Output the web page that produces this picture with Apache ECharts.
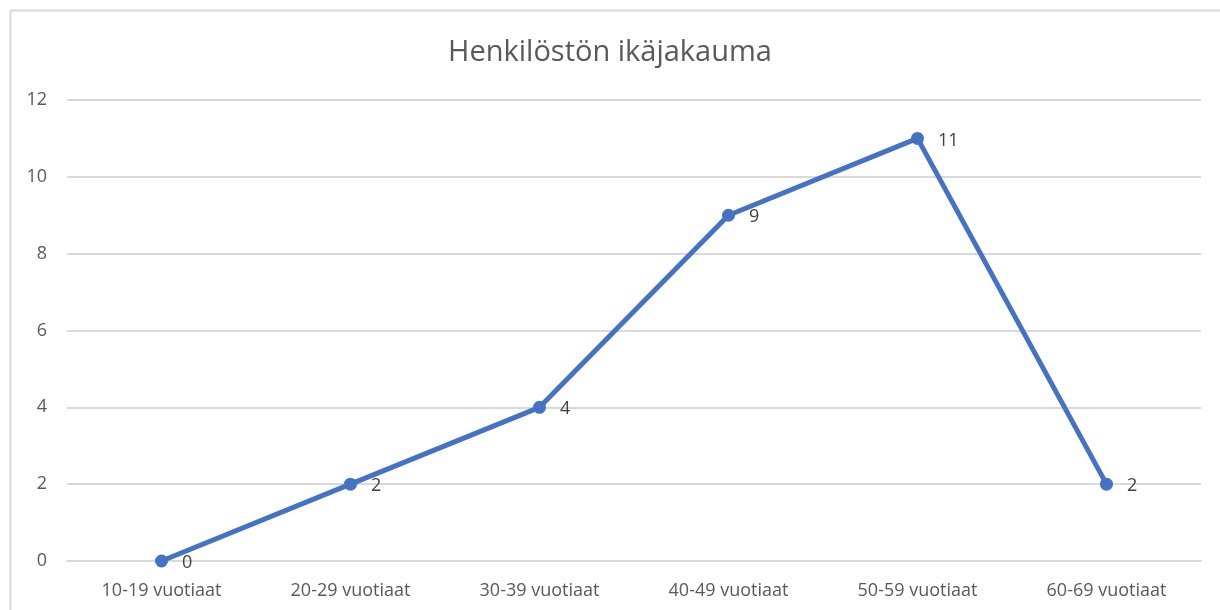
<!DOCTYPE html>
<html>
<head>
<meta charset="utf-8">
<script src="https://cdn.jsdelivr.net/npm/echarts@6/dist/echarts.min.js"></script>
<style>
html,body{margin:0;padding:0;background:#fff;}
#main{width:1220px;height:610px;}
</style>
</head>
<body>
<div id="main"></div>
<script>
var titleText = 'Henkilöstön ikäjakauma';
var categories = ['10-19 vuotiaat','20-29 vuotiaat','30-39 vuotiaat','40-49 vuotiaat','50-59 vuotiaat','60-69 vuotiaat'];
var values = [0, 2, 4, 9, 11, 2];
var yTicks = {min: 0, max: 12, interval: 2};

var font = '"Open Sans", "Noto Sans", sans-serif';
var chart = echarts.init(document.getElementById('main'), null, {renderer: 'canvas'});
chart.setOption({
  backgroundColor: '#ffffff',
  animation: false,
  graphic: [{
    type: 'rect', left: 8, top: 8, z: -1,
    shape: {width: 1300, height: 700},
    style: {fill: 'none', stroke: '#d9d9d9', lineWidth: 2}
  }],
  title: {
    text: titleText, left: 'center', top: 33,
    textStyle: {fontFamily: font, fontSize: 29, fontWeight: 'normal', color: '#595959'}
  },
  grid: {left: 67, right: 19, top: 100, bottom: 49, containLabel: false},
  xAxis: {
    type: 'category', data: categories, boundaryGap: true,
    axisLine: {show: true, lineStyle: {color: '#d9d9d9', width: 2}},
    axisTick: {show: false},
    axisLabel: {fontFamily: font, fontSize: 18, color: '#595959', margin: 21}
  },
  yAxis: {
    type: 'value', min: yTicks.min, max: yTicks.max, interval: yTicks.interval,
    axisLine: {show: false}, axisTick: {show: false},
    splitLine: {lineStyle: {color: '#d9d9d9', width: 2}},
    axisLabel: {fontFamily: font, fontSize: 18, color: '#595959', margin: 20}
  },
  series: [{
    type: 'line', data: values,
    lineStyle: {color: '#4472C4', width: 5},
    itemStyle: {color: '#4472C4'},
    symbol: 'circle', symbolSize: 13,
    label: {
      show: true, position: 'right', distance: 14,
      fontFamily: font, fontSize: 18, color: '#404040', offset: [0, 2]
    }
  }]
});
</script>
</body>
</html>
